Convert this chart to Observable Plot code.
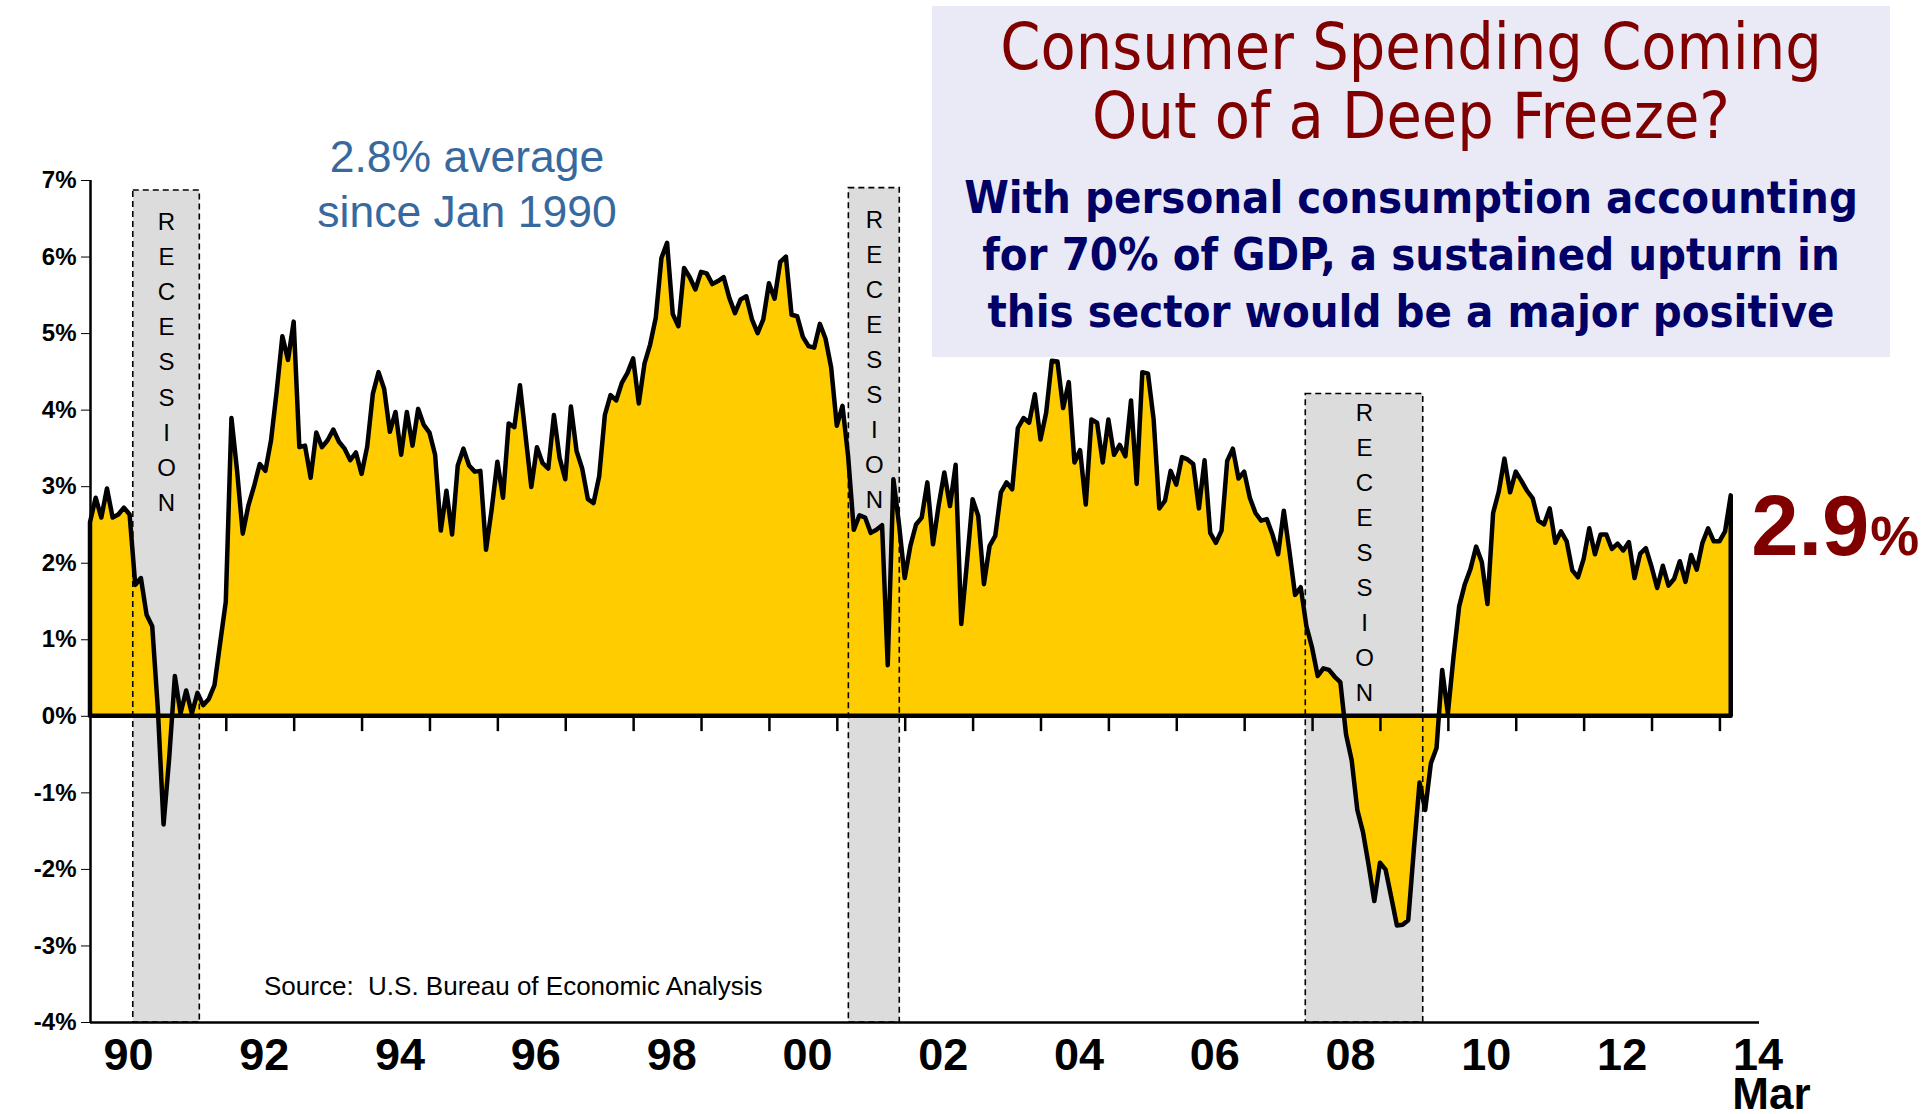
<!DOCTYPE html>
<html>
<head>
<meta charset="utf-8">
<script src="https://cdn.jsdelivr.net/npm/d3@7"></script>
<script src="https://cdn.jsdelivr.net/npm/@observablehq/plot@0.6"></script>
<style>
  html, body { margin: 0; padding: 0; background: #ffffff; }
  #chart { position: relative; width: 1929px; height: 1114px; }
  #chart svg g[aria-label^="y-axis"] text { font-size: 24px; font-weight: bold; }
</style>
</head>
<body>
<div id="chart"></div>
<script>
// Real personal consumption expenditures, year-over-year % change, monthly Jan 1990 - Mar 2014
const startYear = 1990;
const pceYoY = [
  2.53, 2.85, 2.59, 2.97, 2.59, 2.63, 2.72, 2.63, 1.71, 1.80, 1.32, 1.17,
  0.08, -1.42, -0.55, 0.52, 0.03, 0.33, 0.03, 0.30, 0.14, 0.22, 0.40, 0.95,
  1.49, 3.89, 3.20, 2.38, 2.75, 3.00, 3.29, 3.20, 3.60, 4.24, 4.96, 4.65,
  5.15, 3.51, 3.53, 3.11, 3.70, 3.51, 3.60, 3.74, 3.58, 3.49, 3.34, 3.44,
  3.16, 3.52, 4.21, 4.49, 4.27, 3.71, 3.97, 3.41, 3.97, 3.53, 4.01, 3.80,
  3.70, 3.41, 2.42, 2.94, 2.37, 3.27, 3.49, 3.27, 3.19, 3.20, 2.17, 2.70,
  3.32, 2.85, 3.82, 3.77, 4.32, 3.65, 2.99, 3.51, 3.30, 3.23, 3.93, 3.37,
  3.09, 4.04, 3.46, 3.23, 2.83, 2.78, 3.13, 3.93, 4.19, 4.12, 4.35, 4.48,
  4.67, 4.08, 4.60, 4.85, 5.20, 5.98, 6.18, 5.25, 5.09, 5.85, 5.73, 5.57,
  5.80, 5.78, 5.64, 5.68, 5.73, 5.46, 5.26, 5.44, 5.48, 5.18, 5.00, 5.18,
  5.65, 5.45, 5.93, 6.00, 5.24, 5.22, 4.95, 4.83, 4.81, 5.12, 4.93, 4.55,
  3.79, 4.05, 3.39, 2.43, 2.62, 2.59, 2.39, 2.43, 2.49, 0.66, 3.09, 2.50,
  1.80, 2.22, 2.50, 2.59, 3.05, 2.24, 2.75, 3.18, 2.74, 3.28, 1.20, 2.00,
  2.83, 2.61, 1.72, 2.22, 2.35, 2.92, 3.05, 2.96, 3.76, 3.89, 3.83, 4.20,
  3.61, 3.96, 4.64, 4.63, 4.02, 4.36, 3.31, 3.47, 2.76, 3.87, 3.83, 3.31,
  3.87, 3.41, 3.54, 3.39, 4.12, 3.03, 4.49, 4.47, 3.87, 2.71, 2.81, 3.20,
  3.02, 3.38, 3.35, 3.29, 2.71, 3.34, 2.39, 2.26, 2.42, 3.33, 3.49, 3.10,
  3.19, 2.85, 2.65, 2.55, 2.57, 2.37, 2.11, 2.68, 2.15, 1.58, 1.68, 1.17,
  0.89, 0.52, 0.62, 0.60, 0.51, 0.44, -0.24, -0.58, -1.23, -1.52, -1.95, -2.42,
  -1.92, -2.01, -2.37, -2.74, -2.73, -2.67, -1.74, -0.87, -1.23, -0.62, -0.42, 0.60,
  0.03, 0.77, 1.43, 1.72, 1.92, 2.21, 2.01, 1.46, 2.65, 2.93, 3.36, 2.92,
  3.19, 3.07, 2.94, 2.84, 2.55, 2.50, 2.71, 2.26, 2.41, 2.28, 1.90, 1.81,
  2.05, 2.45, 2.11, 2.37, 2.37, 2.18, 2.25, 2.16, 2.27, 1.80, 2.12, 2.19,
  1.95, 1.67, 1.96, 1.70, 1.79, 2.02, 1.75, 2.10, 1.91, 2.26, 2.45, 2.28,
  2.28, 2.41, 2.88
];

// Recession shading (decimal years) and box tops (%)
const recStart = [1990.63, 2001.17, 2007.90];
const recEnd   = [1991.61, 2001.92, 2009.63];
const recTop   = [6.87, 6.90, 4.21];

// Axis content
const yTicks = [-4, -3, -2, -1, 0, 1, 2, 3, 4, 5, 6, 7];
const yearTicks = d3.range(1991, 2015);
const yearLabelYears = [1990, 1992, 1994, 1996, 1998, 2000, 2002, 2004, 2006, 2008, 2010, 2012, 2014];
const yearLabels = ["90", "92", "94", "96", "98", "00", "02", "04", "06", "08", "10", "12", "14"];
const lastMonthLabel = "Mar";

const data = pceYoY.map((v, i) => ({ year: startYear + i / 12, value: v }));
const recessions = recStart.map((s, i) => ({ start: s, end: recEnd[i], top: recTop[i], mid: (s + recEnd[i]) / 2, label: "R\nE\nC\nE\nS\nS\nI\nO\nN" }));
const labels = yearLabelYears.map((y, i) => ({ pos: y + 0.56, text: yearLabels[i] }));
const last = data[data.length - 1];

const FONT = "'Liberation Sans', Arial, Helvetica, sans-serif";

const chart = Plot.plot({
  width: 1929,
  height: 1114,
  marginLeft: 90,
  marginRight: 170,
  marginTop: 180,
  marginBottom: 92,
  style: { fontFamily: FONT, fontSize: "24px", fontWeight: "bold", color: "black", background: "white", overflow: "visible" },
  x: { domain: [1990, 2014.583], axis: null },
  y: { domain: [-4, 7], ticks: yTicks, tickFormat: d => d + "%", tickSize: 9, tickPadding: 5, label: null },
  marks: [
    Plot.rect(recessions, { x1: "start", x2: "end", y1: -4, y2: "top", fill: "#DCDCDC" }),
    Plot.areaY(data, { x: "year", y: "value", fill: "#FFCC00", stroke: "black", strokeWidth: 4.5, strokeLinejoin: "round" }),
    Plot.rect(recessions, { x1: "start", x2: "end", y1: -4, y2: "top", fill: "none", stroke: "black", strokeWidth: 1.6, strokeDasharray: "6,4" }),
    Plot.text(recessions.slice(0, 2), { x: "mid", y: "top", text: "label", lineAnchor: "top", lineHeight: 1.46, dy: 15, fontSize: 24, fontWeight: "normal", fill: "black" }),
    Plot.text(recessions.slice(2), { x: "mid", y: "top", text: "label", lineAnchor: "top", lineHeight: 1.46, dy: 2, fontSize: 24, fontWeight: "normal", fill: "black" }),
    Plot.ruleX(yearTicks, { y1: 0, y2: -0.2, stroke: "black", strokeWidth: 2.5 }),
    Plot.ruleX([1990], { y1: -4, y2: 7, stroke: "black", strokeWidth: 2.5 }),
    Plot.ruleY([-4], { stroke: "black", strokeWidth: 2.5 }),
    Plot.text(labels, { x: "pos", y: -4, text: "text", lineAnchor: "bottom", dy: 47, fontSize: 45, fontWeight: "bold", fill: "black" }),
    Plot.text([last], { x: 2014.58, y: -4, text: () => lastMonthLabel, textAnchor: "start", lineAnchor: "bottom", dy: 86, dx: -27, fontSize: 44, fontWeight: "bold", fill: "black" }),
    Plot.text([last], { x: "year", y: "value", text: d => d.value.toFixed(1), textAnchor: "start", lineAnchor: "bottom", dx: 20, dy: 59, fontSize: 85, fontWeight: "bold", fill: "#800000" }),
    Plot.text([last], { x: "year", y: "value", text: () => "%", textAnchor: "start", lineAnchor: "bottom", dx: 139, dy: 59, fontSize: 55, fontWeight: "bold", fill: "#800000" })
  ]
});

document.getElementById("chart").appendChild(chart);

// Annotations (title box, average note, source)
const svg = d3.select(chart);
const ann = svg.append("g").attr("font-family", FONT);

ann.append("rect").attr("x", 932).attr("y", 6).attr("width", 958).attr("height", 351).attr("fill", "#EAEAF7");

const tfont = "'DejaVu Sans Condensed', 'DejaVu Sans', Tahoma, sans-serif";
const titleLines = ["Consumer Spending Coming", "Out of a Deep Freeze?"];
const titleBase = [69, 138];
titleLines.forEach((t, i) => {
  ann.append("text").attr("x", 1411).attr("y", titleBase[i]).attr("text-anchor", "middle")
    .attr("font-family", tfont).attr("font-size", 64).attr("font-weight", "normal")
    .attr("fill", "#800000").text(t);
});
const subLines = ["With personal consumption accounting", "for 70% of GDP, a sustained upturn in", "this sector would be a major positive"];
const subBase = [213, 270, 327];
subLines.forEach((t, i) => {
  ann.append("text").attr("x", 1411).attr("y", subBase[i]).attr("text-anchor", "middle")
    .attr("font-family", tfont).attr("font-size", 45).attr("font-weight", "bold")
    .attr("fill", "#000066").text(t);
});

const avgLines = ["2.8% average", "since Jan 1990"];
const avgBase = [172, 227];
avgLines.forEach((t, i) => {
  ann.append("text").attr("x", 467).attr("y", avgBase[i]).attr("text-anchor", "middle")
    .attr("font-size", 44.5).attr("font-weight", "normal").attr("fill", "#37699F").text(t);
});

ann.append("text").attr("x", 264).attr("y", 995).attr("text-anchor", "start").attr("font-size", 26).attr("font-weight", "normal")
  .attr("fill", "black").style("white-space", "pre")
  .text("Source:  U.S. Bureau of Economic Analysis");
</script>
</body>
</html>
